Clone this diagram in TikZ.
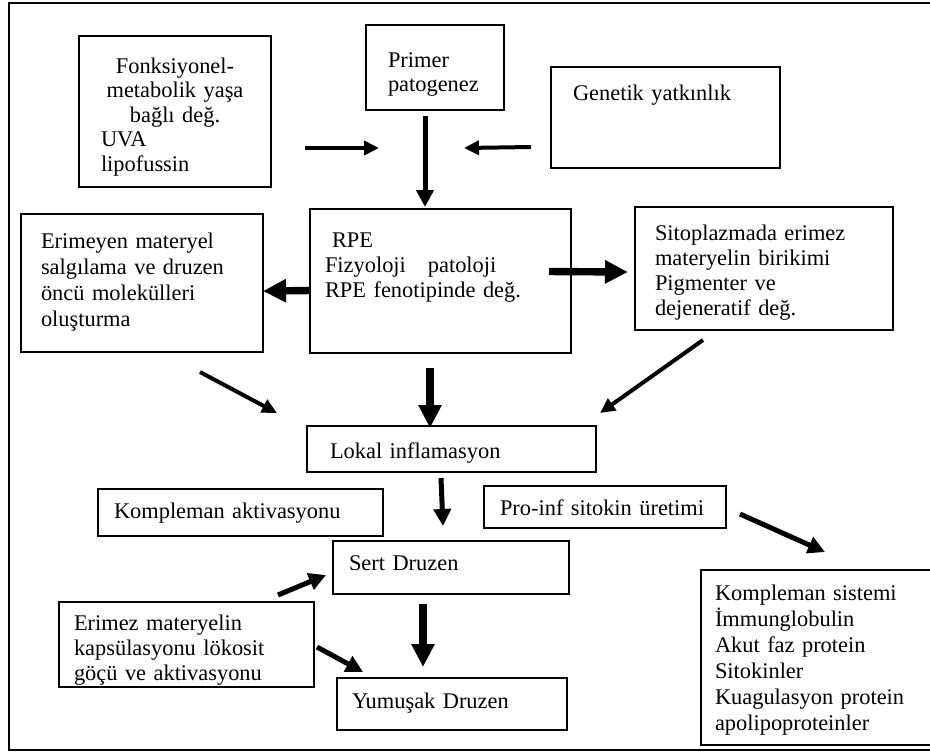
\documentclass[tikz,border=0pt]{standalone}
\usepackage{fontspec}
\setmainfont{Liberation Serif}
\usetikzlibrary{arrows.meta}

\begin{document}
\begin{tikzpicture}[x=0.5pt,y=-0.5pt,
  boxstyle/.style={
    rectangle,
    draw=black,
    line width=.65pt,
    inner sep=0pt,
    outer sep=0pt,
    anchor=north west,
    align=left,
    font=\fontsize{11.2pt}{12.5pt}\selectfont,
  },
  pad/.style={execute at begin node={\leftskip=#1\relax}},
  thinarrow/.style={line width=2pt,-{Triangle[length=7.5pt,width=7pt]}},
  midarrow/.style={line width=2.5pt,-{Triangle[length=8.5pt,width=8.5pt]}},
  boldarrow/.style={line width=3.7pt,-{Triangle[length=11.5pt,width=11pt]}}]
\useasboundingbox (0,0) rectangle (930,752);
% frame
\draw[line width=1pt] (960,2.5) -| (9,749.5) -- (960,749.5);
% boxes
\node[boxstyle,text width=96pt,text height=18.5pt,text depth=57pt,pad=11pt,
  font=\fontsize{11.2pt}{12.3pt}\selectfont] (fonk) at (79,36)
  {{\centering Fonksiyonel-\\ metabolik yaşa\\ bağlı değ.\par}UVA\\ lipofussin};
\node[boxstyle,text width=69pt,text height=21pt,text depth=21.5pt,pad=11pt,
  font=\fontsize{11.2pt}{12pt}\selectfont] (primer) at (366,25) {Primer\\ patogenez};
\node[boxstyle,text width=114.5pt,text height=16.5pt,text depth=34pt,pad=11pt] (gen) at (551,67) {Genetik yatkınlık};
\node[boxstyle,text width=121pt,text height=17pt,text depth=52pt,pad=10pt,
  font=\fontsize{11.2pt}{13pt}\selectfont] (erimeyen) at (21,214)
  {Erimeyen materyel\\ salgılama ve druzen\\ öncü molekülleri\\ oluşturma};
\node[boxstyle,text width=130.5pt,text height=19pt,text depth=53pt,pad=7.5pt] (rpe) at (310,209)
  {\hspace*{3.5pt}RPE\\ Fizyoloji\hspace{11pt}patoloji\\ RPE fenotipinde değ.};
\node[boxstyle,text width=129pt,text height=16.5pt,text depth=45pt,pad=10pt] (sito) at (635,207)
  {Sitoplazmada erimez\\ materyelin birikimi\\ Pigmenter ve\\ dejeneratif değ.};
\node[boxstyle,text width=144.5pt,text height=16pt,text depth=7pt,pad=11.5pt] (lokal) at (307,426) {Lokal inflamasyon};
\node[boxstyle,text width=142.5pt,text height=14.5pt,text depth=9pt,pad=8pt] (kompakt) at (98,489) {Kompleman aktivasyonu};
\node[boxstyle,text width=121pt,text height=14.5pt,text depth=6.5pt,pad=8pt] (proinf) at (484,486) {Pro-inf sitokin üretimi};
\node[boxstyle,text width=118pt,text height=14.5pt,text depth=12pt,pad=8pt] (sert) at (333,541) {Sert Druzen};
\node[boxstyle,text width=127.5pt,text height=14pt,text depth=28.5pt,pad=7.5pt] (erimez) at (59,602)
  {Erimez materyelin\\ kapsülasyonu lökosit\\ göçü ve aktivasyonu};
\node[boxstyle,text width=115pt,text height=15pt,text depth=11pt,pad=7.5pt] (yumusak) at (337,678) {Yumuşak Druzen};
\node[boxstyle,text width=135pt,text height=15pt,text depth=72.5pt,pad=7pt,
  font=\fontsize{11.2pt}{13pt}\selectfont] (ksistem) at (701,570)
  {Kompleman sistemi\\ İmmunglobulin\\ Akut faz protein\\ Sitokinler\\ Kuagulasyon protein\\ apolipoproteinler};
% arrows
\draw[thinarrow] ([shift={(34,36.5)}]fonk.east) -- ([shift={(-61.5,-61)}]rpe.north);
\draw[thinarrow] ([shift={(-20,29.5)}]gen.west) -- ([shift={(23.5,-61)}]rpe.north);
\draw[midarrow] ([shift={(-10,6)}]primer.south) -- ([shift={(-15.5,-2)}]rpe.north);
\draw[boldarrow] ([shift={(0,9.5)}]rpe.west) -- ([shift={(0,8)}]erimeyen.east);
\draw[boldarrow] ([shift={(-22,-9.5)}]rpe.east) -- ([shift={(-7,3.5)}]sito.west);
\draw[thinarrow] ([shift={(58,20)}]erimeyen.south) -- ([shift={(-30,-13)}]lokal.north west);
\draw[boldarrow] ([shift={(-10.5,15)}]rpe.south) -- ([shift={(-21.5,2)}]lokal.north);
\draw[thinarrow] ([shift={(-61,10)}]sito.south) -- ([shift={(4,-13)}]lokal.north east);
\draw[midarrow] ([shift={(-10.5,6)}]lokal.south) -- ([shift={(-8,-15)}]sert.north);
\draw[midarrow] ([shift={(-36,-7)}]erimez.north east) -- ([shift={(-7,7.5)}]sert.west);
\draw[midarrow] ([shift={(3,2.5)}]erimez.east) -- ([shift={(26,-6)}]yumusak.north west);
\draw[boldarrow] ([shift={(-28,10)}]sert.south) -- ([shift={(-29,-11)}]yumusak.north);
\draw[midarrow] ([shift={(14,7)}]proinf.east) -- ([shift={(124,-18)}]ksistem.north west);
\end{tikzpicture}
\end{document}
